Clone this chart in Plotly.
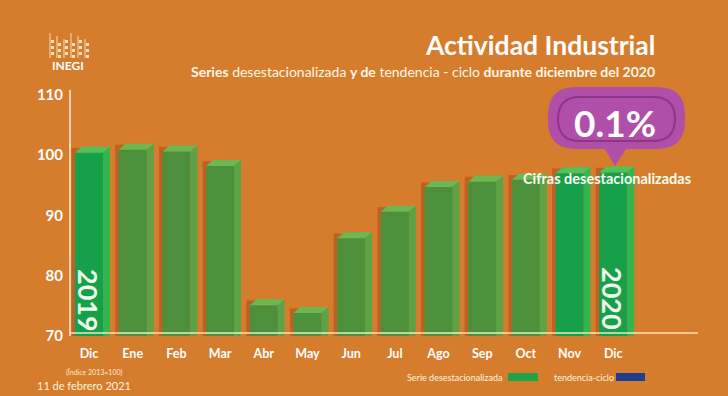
import plotly.graph_objects as go

# ---------------- data ----------------
months = ["Dic", "Ene", "Feb", "Mar", "Abr", "May", "Jun", "Jul", "Ago", "Sep", "Oct", "Nov", "Dic"]
values = [100.4, 100.9, 100.6, 98.2, 75.1, 73.8, 86.2, 90.6, 94.7, 95.6, 95.9, 97.0, 97.1]
highlight = [True, False, False, False, False, False, False, False, False, False, False, True, True]
y_ticks = [70, 80, 90, 100, 110]

BASE = 69.4
BAR_W = 0.64
DX = 0.16   # depth offset (x units)
DY = 1.0    # depth offset (y units)

ORANGE = "#D67D2D"
FRONT_HI = "#17A04A"
FRONT_LO = "#4C903B"
SIDE_HI = "#35B54F"
SIDE_LO = "#5CA346"
TOP_HI = "#4FC25A"
TOP_LO = "#6BB752"

# plot area in pixels (for decorations in paper coords)
L, R, T, B = 70, 698, 90, 336
def px(x):
    return (x - L) / (R - L)
def py(y):
    return (B - y) / (B - T)

xs = list(range(len(months)))
fig = go.Figure()

# shadow behind bars
fig.add_trace(go.Bar(
    x=[x + 0.03 for x in xs], y=[v + 0.8 - BASE for v in values], base=BASE,
    width=BAR_W + 0.22, marker=dict(color="rgba(140,40,20,0.32)", line=dict(width=0)),
    hoverinfo="skip", showlegend=False))

# front faces
fig.add_trace(go.Bar(
    x=xs, y=[v - BASE for v in values], base=BASE, width=BAR_W,
    marker=dict(color=[FRONT_HI if h else FRONT_LO for h in highlight], line=dict(width=0)),
    showlegend=False, customdata=list(zip(months, values)),
    hovertemplate="%{customdata[0]}: %{customdata[1]}<extra></extra>"))

# side and top faces computed from data
for hi in (True, False):
    sx, sy, tx, ty = [], [], [], []
    for x, v, h in zip(xs, values, highlight):
        if h != hi:
            continue
        x0, x1 = x - BAR_W / 2, x + BAR_W / 2
        sx += [x1, x1, x1 + DX, x1 + DX, x1, None]
        sy += [BASE, v, v + DY, BASE + DY, BASE, None]
        tx += [x0, x1, x1 + DX, x0 + DX, x0, None]
        ty += [v, v, v + DY, v + DY, v, None]
    fig.add_trace(go.Scatter(x=sx, y=sy, fill="toself", mode="lines", line=dict(width=0),
                             fillcolor=SIDE_HI if hi else SIDE_LO, hoverinfo="skip", showlegend=False))
    fig.add_trace(go.Scatter(x=tx, y=ty, fill="toself", mode="lines", line=dict(width=0),
                             fillcolor=TOP_HI if hi else TOP_LO, hoverinfo="skip", showlegend=False))

shapes = []
# axes lines
shapes.append(dict(type="line", xref="paper", yref="paper", x0=0, x1=0, y0=0, y1=1,
                   line=dict(color="rgba(255,245,225,0.95)", width=1.5), layer="above"))
shapes.append(dict(type="line", xref="paper", yref="paper", x0=0, x1=1, y0=py(333), y1=py(333),
                   line=dict(color="rgba(255,240,210,0.9)", width=1.5), layer="above"))

def rrect(x0, y0, x1, y1, r):
    rx = r / (R - L)
    ry = r / (B - T)
    X0, X1 = px(x0), px(x1)
    Y0, Y1 = py(y1), py(y0)  # bottom, top in paper
    return (f"M {X0+rx},{Y1} L {X1-rx},{Y1} Q {X1},{Y1} {X1},{Y1-ry} "
            f"L {X1},{Y0+ry} Q {X1},{Y0} {X1-rx},{Y0} L {X0+rx},{Y0} "
            f"Q {X0},{Y0} {X0},{Y0+ry} L {X0},{Y1-ry} Q {X0},{Y1} {X0+rx},{Y1} Z")

# callout bubble
shapes.append(dict(type="path", xref="paper", yref="paper", layer="above",
                   path=f"M {px(603)},{py(146)} L {px(628)},{py(146)} L {px(615)},{py(166)} Z",
                   fillcolor="#B04FA8", line=dict(width=0)))
shapes.append(dict(type="path", xref="paper", yref="paper", layer="above",
                   path=rrect(548, 87, 685, 149, 28), fillcolor="#B04FA8", line=dict(width=0)))
shapes.append(dict(type="path", xref="paper", yref="paper", layer="above",
                   path=rrect(558, 97, 675, 141, 22), fillcolor="rgba(0,0,0,0)",
                   line=dict(color="#8E3588", width=2)))

# INEGI logo bars
for i, lx in enumerate([50, 57, 64, 71, 78, 85]):
    shapes.append(dict(type="line", xref="paper", yref="paper", layer="above",
                       x0=px(lx), x1=px(lx), y0=py(58), y1=py(33 + (i % 3) * 3),
                       line=dict(color="rgba(255,235,200,0.85)", width=1)))
    for j in range(3):
        cy = 40 + j * 6 + (i % 2) * 3
        shapes.append(dict(type="rect", xref="paper", yref="paper", layer="above",
                           x0=px(lx + 1), x1=px(lx + 4), y0=py(cy + 3), y1=py(cy),
                           fillcolor="rgba(255,240,215,0.9)", line=dict(width=0)))

# legend swatches
shapes.append(dict(type="rect", xref="paper", yref="paper", layer="above",
                   x0=px(508), x1=px(538), y0=py(381), y1=py(373), fillcolor="#1EA34A", line=dict(width=0)))
shapes.append(dict(type="rect", xref="paper", yref="paper", layer="above",
                   x0=px(616), x1=px(645), y0=py(381), y1=py(373), fillcolor="#1E3F8F", line=dict(width=0)))

F = "Lato, 'Open Sans', sans-serif"
W = "#FFFFFF"
ann = []
def text(t, x, y, size, xanchor="center", color=W, angle=0, family=F):
    ann.append(dict(text=t, x=px(x), y=py(y), xref="paper", yref="paper", showarrow=False,
                    xanchor=xanchor, yanchor="middle", textangle=angle,
                    font=dict(family=family, size=size, color=color)))

text("<b>Actividad Industrial</b>", 657, 45, 26.5, xanchor="right")
text("<b>Series</b> desestacionalizada <b>y de</b> tendencia - ciclo <b>durante diciembre del 2020</b>",
     657, 71, 14, xanchor="right", color="#FFF6E8")
text("<b>INEGI</b>", 68, 66, 12)
text("<b>0.1%</b>", 615, 122, 37)
text("<b>Cifras desestacionalizadas</b>", 607, 178, 14.5, color="#F4FFF0")
text("<b>2019</b>", 89, 300, 27, angle=90, color="#F0FAEC")
text("<b>2020</b>", 613, 298, 27, angle=90, color="#F0FAEC")
text("Serie desestacionalizada", 505, 377, 9, xanchor="right", color="#FFF3DF")
text("tendencia-ciclo", 552, 377, 9, xanchor="left", color="#FFF3DF")
text("(Índice 2013=100)", 94, 372, 7, color="#FFE9CC")
text("11 de febrero 2021", 84, 385, 11, color="#FFF3DF")

fig.update_layout(
    width=728, height=396,
    paper_bgcolor=ORANGE, plot_bgcolor=ORANGE,
    margin=dict(l=L, r=728 - R, t=T, b=396 - B, pad=0),
    barmode="overlay", showlegend=False,
    shapes=shapes, annotations=ann,
    xaxis=dict(range=[-0.435, 13.94], tickvals=xs, ticktext=[f"<b>{m}</b>" for m in months],
               showgrid=False, zeroline=False, showline=False, ticks="",
               tickfont=dict(family=F, size=12.5, color=W), ticklabelstandoff=8, fixedrange=True),
    yaxis=dict(range=[70, 110.8], tickvals=y_ticks, ticktext=[f"<b>{t}</b>" for t in y_ticks],
               showgrid=False, zeroline=False, showline=False, ticks="",
               tickfont=dict(family=F, size=15, color=W), ticklabelstandoff=6, fixedrange=True),
)

fig.write_html("out.html", config={"displayModeBar": False},
               post_script="document.body.style.margin='0';document.body.style.background='%s';" % ORANGE)
